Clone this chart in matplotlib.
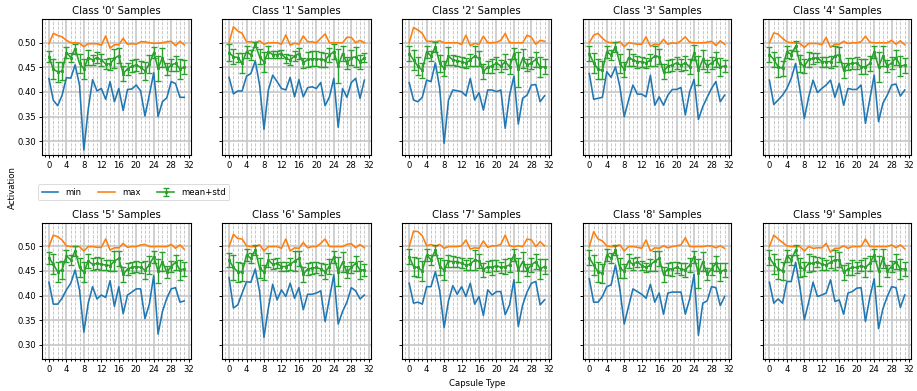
import matplotlib
matplotlib.use("Agg")
import matplotlib.pyplot as plt
from matplotlib.ticker import MultipleLocator

capsule_types = list(range(32))
class_names = ['0', '1', '2', '3', '4', '5', '6', '7', '8', '9']

# per-class minimum activation over samples
min_c0 = [0.427, 0.383, 0.372, 0.393, 0.429, 0.428, 0.455, 0.414, 0.282, 0.365, 0.425, 0.402, 0.407, 0.385, 0.421, 0.380,
          0.407, 0.362, 0.405, 0.406, 0.414, 0.402, 0.351, 0.394, 0.439, 0.350, 0.380, 0.388, 0.421, 0.417, 0.389, 0.389]
min_c1 = [0.4295, 0.396, 0.402, 0.402, 0.432, 0.4375, 0.463, 0.414, 0.324, 0.404, 0.434, 0.421, 0.407, 0.404, 0.4295, 0.390,
          0.425, 0.390, 0.4085, 0.4105, 0.407, 0.419, 0.372, 0.390, 0.4275, 0.328, 0.407, 0.389, 0.419, 0.4275, 0.387, 0.424]
min_c2 = [0.419, 0.3835, 0.380, 0.389, 0.424, 0.421, 0.459, 0.407, 0.2955, 0.3835, 0.404, 0.4025, 0.4005, 0.392, 0.4275, 0.3835,
          0.3985, 0.363, 0.404, 0.404, 0.4005, 0.404, 0.326, 0.3935, 0.432, 0.3345, 0.387, 0.3935, 0.414, 0.415, 0.380, 0.392]
min_c3 = [0.4375, 0.385, 0.387, 0.389, 0.441, 0.4295, 0.451, 0.4105, 0.3495, 0.3835, 0.414, 0.3955, 0.3955, 0.390, 0.434, 0.373,
          0.390, 0.373, 0.3935, 0.405, 0.405, 0.409, 0.353, 0.4005, 0.4255, 0.344, 0.370, 0.389, 0.407, 0.421, 0.380, 0.3935]
min_c4 = [0.424, 0.3745, 0.3835, 0.3935, 0.407, 0.4275, 0.458, 0.404, 0.346, 0.390, 0.424, 0.3985, 0.407, 0.414, 0.424, 0.389,
          0.4175, 0.373, 0.407, 0.405, 0.405, 0.414, 0.336, 0.385, 0.434, 0.3395, 0.377, 0.3935, 0.414, 0.416, 0.3915, 0.404]
min_c5 = [0.427, 0.3825, 0.3825, 0.3945, 0.4115, 0.425, 0.452, 0.4115, 0.3257, 0.3845, 0.418, 0.393, 0.401, 0.396, 0.430, 0.378,
          0.418, 0.363, 0.401, 0.407, 0.4135, 0.4135, 0.353, 0.3825, 0.4405, 0.3215, 0.3675, 0.3945, 0.4135, 0.416, 0.3865, 0.389]
min_c6 = [0.4365, 0.3745, 0.381, 0.405, 0.428, 0.427, 0.454, 0.408, 0.315, 0.3745, 0.423, 0.391, 0.4115, 0.398, 0.425, 0.3945,
          0.416, 0.371, 0.4025, 0.4025, 0.405, 0.4095, 0.347, 0.3945, 0.442, 0.342, 0.3675, 0.3865, 0.416, 0.4095, 0.393, 0.401]
min_c7 = [0.425, 0.3845, 0.3865, 0.3825, 0.418, 0.418, 0.4485, 0.4095, 0.335, 0.389, 0.420, 0.4025, 0.418, 0.398, 0.425, 0.3825,
          0.398, 0.3595, 0.4115, 0.401, 0.408, 0.408, 0.361, 0.381, 0.432, 0.337, 0.381, 0.407, 0.425, 0.4285, 0.381, 0.391]
min_c8 = [0.434, 0.3865, 0.3865, 0.398, 0.418, 0.4215, 0.462, 0.4135, 0.342, 0.378, 0.4135, 0.408, 0.4025, 0.3945, 0.423, 0.3865,
          0.405, 0.362, 0.405, 0.407, 0.407, 0.407, 0.362, 0.393, 0.443, 0.319, 0.3845, 0.389, 0.418, 0.416, 0.3795, 0.398]
min_c9 = [0.427, 0.3845, 0.393, 0.3845, 0.4285, 0.4285, 0.4675, 0.416, 0.3507, 0.3865, 0.427, 0.398, 0.401, 0.405, 0.432, 0.388,
          0.391, 0.362, 0.405, 0.408, 0.415, 0.416, 0.3473, 0.396, 0.434, 0.3325, 0.373, 0.398, 0.418, 0.416, 0.3757, 0.401]

# per-class maximum activation
max_c0 = [0.498, 0.519, 0.515, 0.512, 0.505, 0.500, 0.500, 0.499, 0.492, 0.498, 0.498, 0.498, 0.495, 0.514, 0.489, 0.496,
          0.496, 0.509, 0.497, 0.498, 0.497, 0.502, 0.502, 0.500, 0.499, 0.499, 0.500, 0.502, 0.503, 0.494, 0.503, 0.496]
max_c1 = [0.500, 0.5325, 0.524, 0.519, 0.502, 0.502, 0.500, 0.504, 0.497, 0.500, 0.500, 0.500, 0.497, 0.516, 0.495, 0.499,
          0.497, 0.514, 0.502, 0.502, 0.500, 0.509, 0.518, 0.500, 0.500, 0.500, 0.500, 0.511, 0.511, 0.500, 0.505, 0.500]
max_c2 = [0.500, 0.531, 0.526, 0.519, 0.503, 0.503, 0.502, 0.504, 0.500, 0.500, 0.500, 0.500, 0.4965, 0.5155, 0.494, 0.4985,
          0.497, 0.5135, 0.500, 0.500, 0.501, 0.505, 0.519, 0.500, 0.500, 0.500, 0.500, 0.5155, 0.511, 0.497, 0.505, 0.503]
max_c3 = [0.500, 0.5155, 0.519, 0.509, 0.502, 0.500, 0.500, 0.502, 0.492, 0.500, 0.4985, 0.497, 0.497, 0.512, 0.493, 0.497,
          0.496, 0.507, 0.497, 0.500, 0.4985, 0.504, 0.512, 0.501, 0.500, 0.500, 0.500, 0.501, 0.503, 0.4945, 0.504, 0.497]
max_c4 = [0.500, 0.520, 0.5175, 0.509, 0.502, 0.500, 0.500, 0.4985, 0.4905, 0.4985, 0.4985, 0.4985, 0.496, 0.511, 0.4905, 0.497,
          0.497, 0.503, 0.4985, 0.500, 0.500, 0.502, 0.5135, 0.501, 0.500, 0.500, 0.500, 0.500, 0.505, 0.497, 0.504, 0.496]
max_c5 = [0.4995, 0.523, 0.5195, 0.513, 0.501, 0.4995, 0.4995, 0.4995, 0.4905, 0.4995, 0.4995, 0.498, 0.498, 0.515, 0.4925, 0.497,
          0.497, 0.506, 0.498, 0.4995, 0.4995, 0.503, 0.504, 0.4995, 0.4995, 0.4995, 0.4995, 0.4995, 0.504, 0.496, 0.503, 0.494]
max_c6 = [0.4995, 0.5245, 0.516, 0.515, 0.501, 0.4995, 0.4995, 0.503, 0.4905, 0.4995, 0.4995, 0.4995, 0.496, 0.515, 0.4905, 0.497,
          0.496, 0.508, 0.497, 0.4995, 0.4995, 0.506, 0.515, 0.4995, 0.4995, 0.4995, 0.4995, 0.504, 0.5055, 0.497, 0.504, 0.497]
max_c7 = [0.4995, 0.531, 0.530, 0.5216, 0.501, 0.504, 0.4995, 0.504, 0.496, 0.4995, 0.4995, 0.4995, 0.501, 0.513, 0.4945, 0.497,
          0.496, 0.511, 0.498, 0.501, 0.501, 0.504, 0.523, 0.501, 0.4995, 0.501, 0.4995, 0.515, 0.513, 0.4995, 0.5095, 0.501]
max_c8 = [0.4995, 0.5297, 0.515, 0.511, 0.501, 0.4995, 0.4995, 0.503, 0.4905, 0.4995, 0.4995, 0.498, 0.496, 0.513, 0.4905, 0.497,
          0.496, 0.501, 0.497, 0.4995, 0.501, 0.503, 0.5175, 0.4995, 0.4995, 0.4995, 0.4995, 0.501, 0.501, 0.497, 0.501, 0.496]
max_c9 = [0.4995, 0.523, 0.515, 0.508, 0.501, 0.4995, 0.4995, 0.4995, 0.4905, 0.4995, 0.496, 0.497, 0.497, 0.506, 0.488, 0.496,
          0.496, 0.501, 0.496, 0.4995, 0.4995, 0.4995, 0.515, 0.4995, 0.4995, 0.4995, 0.4995, 0.4995, 0.503, 0.497, 0.503, 0.495]

# per-class mean activation
mean_c0 = [0.472, 0.446, 0.441, 0.442, 0.480, 0.470, 0.488, 0.458, 0.447, 0.470, 0.465, 0.470, 0.465, 0.457, 0.457, 0.468,
           0.474, 0.437, 0.447, 0.452, 0.455, 0.450, 0.443, 0.457, 0.480, 0.448, 0.470, 0.446, 0.455, 0.458, 0.447, 0.450]
mean_c1 = [0.480, 0.4715, 0.470, 0.459, 0.482, 0.475, 0.4965, 0.4715, 0.461, 0.482, 0.476, 0.476, 0.478, 0.468, 0.465, 0.473,
           0.478, 0.459, 0.466, 0.4675, 0.4675, 0.466, 0.465, 0.475, 0.482, 0.4525, 0.478, 0.459, 0.4695, 0.4715, 0.461, 0.470]
mean_c2 = [0.478, 0.465, 0.4525, 0.444, 0.482, 0.473, 0.492, 0.458, 0.448, 0.473, 0.465, 0.4635, 0.4615, 0.459, 0.465, 0.473,
           0.468, 0.441, 0.451, 0.4525, 0.459, 0.4525, 0.4615, 0.451, 0.478, 0.446, 0.468, 0.4545, 0.459, 0.466, 0.451, 0.451]
mean_c3 = [0.478, 0.459, 0.446, 0.444, 0.482, 0.475, 0.492, 0.458, 0.446, 0.470, 0.465, 0.4615, 0.4615, 0.459, 0.465, 0.473,
           0.4715, 0.441, 0.4525, 0.4545, 0.459, 0.4545, 0.459, 0.451, 0.4795, 0.444, 0.466, 0.4525, 0.459, 0.466, 0.451, 0.4525]
mean_c4 = [0.476, 0.466, 0.451, 0.448, 0.482, 0.476, 0.493, 0.458, 0.4525, 0.466, 0.468, 0.470, 0.4615, 0.4615, 0.4615, 0.473,
           0.476, 0.444, 0.4565, 0.458, 0.459, 0.451, 0.451, 0.458, 0.482, 0.451, 0.473, 0.4525, 0.459, 0.470, 0.4525, 0.4545]
mean_c5 = [0.477, 0.4635, 0.4485, 0.452, 0.481, 0.472, 0.4905, 0.457, 0.4475, 0.470, 0.4635, 0.4655, 0.4635, 0.462, 0.461, 0.470,
           0.4755, 0.443, 0.454, 0.457, 0.459, 0.457, 0.452, 0.462, 0.479, 0.450, 0.469, 0.4475, 0.459, 0.4675, 0.452, 0.454]
mean_c6 = [0.472, 0.457, 0.4485, 0.4475, 0.4825, 0.4755, 0.4925, 0.4555, 0.4475, 0.472, 0.4635, 0.4655, 0.459, 0.459, 0.4635, 0.470,
           0.4755, 0.443, 0.454, 0.4555, 0.457, 0.454, 0.4485, 0.459, 0.479, 0.4485, 0.4675, 0.4475, 0.457, 0.4655, 0.452, 0.452]
mean_c7 = [0.479, 0.459, 0.457, 0.450, 0.4825, 0.4725, 0.4925, 0.459, 0.452, 0.470, 0.469, 0.469, 0.4655, 0.462, 0.4635, 0.4725,
           0.470, 0.452, 0.459, 0.457, 0.461, 0.457, 0.459, 0.462, 0.4825, 0.452, 0.469, 0.452, 0.462, 0.469, 0.454, 0.459]
mean_c8 = [0.477, 0.462, 0.4485, 0.445, 0.4825, 0.4755, 0.4925, 0.4555, 0.450, 0.470, 0.4635, 0.469, 0.461, 0.457, 0.462, 0.470,
           0.4755, 0.443, 0.454, 0.454, 0.457, 0.454, 0.452, 0.462, 0.479, 0.445, 0.469, 0.443, 0.454, 0.4655, 0.4485, 0.452]
mean_c9 = [0.477, 0.4635, 0.454, 0.450, 0.481, 0.4725, 0.4925, 0.457, 0.454, 0.4655, 0.4655, 0.469, 0.4635, 0.462, 0.4675, 0.4725,
           0.4725, 0.447, 0.454, 0.457, 0.457, 0.461, 0.457, 0.4655, 0.4825, 0.450, 0.4755, 0.450, 0.459, 0.469, 0.454, 0.454]

# per-class standard deviation
std_c0 = [0.012, 0.02, 0.02, 0.018, 0.012, 0.01, 0.01, 0.02, 0.02, 0.015, 0.01, 0.012, 0.012, 0.01, 0.012, 0.02,
          0.015, 0.015, 0.012, 0.012, 0.012, 0.012, 0.018, 0.018, 0.012, 0.025, 0.02, 0.012, 0.012, 0.015, 0.02, 0.014]
std_c1 = [0.018, 0.015, 0.01, 0.02, 0.012, 0.01, 0.005, 0.015, 0.02, 0.012, 0.008, 0.008, 0.008, 0.01, 0.01, 0.01,
          0.012, 0.01, 0.015, 0.015, 0.015, 0.015, 0.015, 0.015, 0.015, 0.035, 0.015, 0.012, 0.015, 0.02, 0.015, 0.01]
std_c2 = [0.015, 0.02, 0.018, 0.015, 0.012, 0.01, 0.01, 0.018, 0.015, 0.018, 0.01, 0.01, 0.01, 0.01, 0.012, 0.02,
          0.015, 0.015, 0.012, 0.015, 0.012, 0.012, 0.015, 0.015, 0.012, 0.035, 0.02, 0.012, 0.012, 0.015, 0.02, 0.015]
std_c3 = [0.015, 0.02, 0.02, 0.018, 0.012, 0.01, 0.01, 0.02, 0.015, 0.018, 0.012, 0.012, 0.01, 0.01, 0.012, 0.02,
          0.015, 0.015, 0.012, 0.012, 0.012, 0.012, 0.015, 0.015, 0.015, 0.03, 0.02, 0.012, 0.012, 0.015, 0.018, 0.012]
std_c4 = [0.015, 0.015, 0.02, 0.015, 0.012, 0.01, 0.01, 0.018, 0.015, 0.015, 0.012, 0.01, 0.01, 0.01, 0.012, 0.02,
          0.015, 0.015, 0.012, 0.012, 0.012, 0.015, 0.015, 0.015, 0.012, 0.03, 0.02, 0.012, 0.012, 0.015, 0.02, 0.015]
std_c5 = [0.012, 0.02, 0.02, 0.018, 0.012, 0.01, 0.01, 0.02, 0.02, 0.015, 0.012, 0.012, 0.012, 0.01, 0.012, 0.02,
          0.015, 0.015, 0.012, 0.012, 0.012, 0.012, 0.018, 0.018, 0.012, 0.025, 0.02, 0.012, 0.012, 0.015, 0.02, 0.014]
std_c6 = [0.015, 0.025, 0.02, 0.018, 0.012, 0.01, 0.01, 0.02, 0.015, 0.015, 0.01, 0.01, 0.01, 0.01, 0.012, 0.02,
          0.015, 0.015, 0.012, 0.012, 0.012, 0.012, 0.015, 0.015, 0.012, 0.03, 0.02, 0.012, 0.012, 0.015, 0.018, 0.012]
std_c7 = [0.015, 0.02, 0.02, 0.02, 0.012, 0.01, 0.01, 0.018, 0.02, 0.012, 0.012, 0.01, 0.01, 0.01, 0.012, 0.02,
          0.015, 0.015, 0.012, 0.015, 0.012, 0.012, 0.015, 0.015, 0.012, 0.025, 0.02, 0.012, 0.015, 0.015, 0.02, 0.015]
std_c8 = [0.015, 0.02, 0.02, 0.02, 0.012, 0.01, 0.01, 0.02, 0.015, 0.015, 0.012, 0.01, 0.01, 0.01, 0.012, 0.02,
          0.015, 0.015, 0.012, 0.015, 0.012, 0.012, 0.015, 0.015, 0.012, 0.03, 0.02, 0.012, 0.012, 0.015, 0.018, 0.015]
std_c9 = [0.015, 0.02, 0.02, 0.018, 0.012, 0.01, 0.01, 0.02, 0.015, 0.018, 0.015, 0.01, 0.012, 0.01, 0.012, 0.02,
          0.015, 0.015, 0.012, 0.015, 0.012, 0.012, 0.02, 0.015, 0.012, 0.03, 0.02, 0.012, 0.012, 0.015, 0.02, 0.015]

mins = [min_c0, min_c1, min_c2, min_c3, min_c4, min_c5, min_c6, min_c7, min_c8, min_c9]
maxs = [max_c0, max_c1, max_c2, max_c3, max_c4, max_c5, max_c6, max_c7, max_c8, max_c9]
means = [mean_c0, mean_c1, mean_c2, mean_c3, mean_c4, mean_c5, mean_c6, mean_c7, mean_c8, mean_c9]
stds = [std_c0, std_c1, std_c2, std_c3, std_c4, std_c5, std_c6, std_c7, std_c8, std_c9]

DPI = 61
fig, axes = plt.subplots(2, 5, figsize=(917 / DPI, 391 / DPI), dpi=DPI, sharey=True)
fig.subplots_adjust(left=0.046, right=0.994, bottom=0.082, top=0.951, wspace=0.21, hspace=0.495)

for k, ax in enumerate(axes.flat):
    ax.plot(capsule_types, mins[k], color='tab:blue', linewidth=1.9, label='min')
    ax.plot(capsule_types, maxs[k], color='tab:orange', linewidth=1.9, label='max')
    ax.errorbar(capsule_types, means[k], yerr=stds[k], color='tab:green', linewidth=1.9,
                elinewidth=1.6, capthick=1.6, marker='s', markersize=3.5, capsize=3.5,
                label='mean+std')
    ax.set_title(f"Class '{class_names[k]}' Samples")
    ax.xaxis.set_major_locator(MultipleLocator(4))
    ax.xaxis.set_minor_locator(MultipleLocator(1))
    ax.grid(which='major', linewidth=2.0, color='#c8c8c8')
    ax.xaxis.grid(which='minor', linestyle='--', linewidth=1.0, color='#c0c0c0')
    ax.set_axisbelow(True)
    for spine in ax.spines.values():
        spine.set_linewidth(1.3)
    ax.tick_params(which='both', width=1.1)

axes[0, 0].set_ylim(0.271, 0.548)

handles, labels = axes[0, 0].get_legend_handles_labels()
fig.legend(handles, labels, loc='upper left', bbox_to_anchor=(0.037, 0.539), ncol=3)

fig.text(0.014, 0.52, 'Activation', rotation=90, ha='center', va='center')
fig.text(0.52, 0.018, 'Capsule Type', ha='center', va='center')

fig.savefig('out.png', dpi=DPI)
